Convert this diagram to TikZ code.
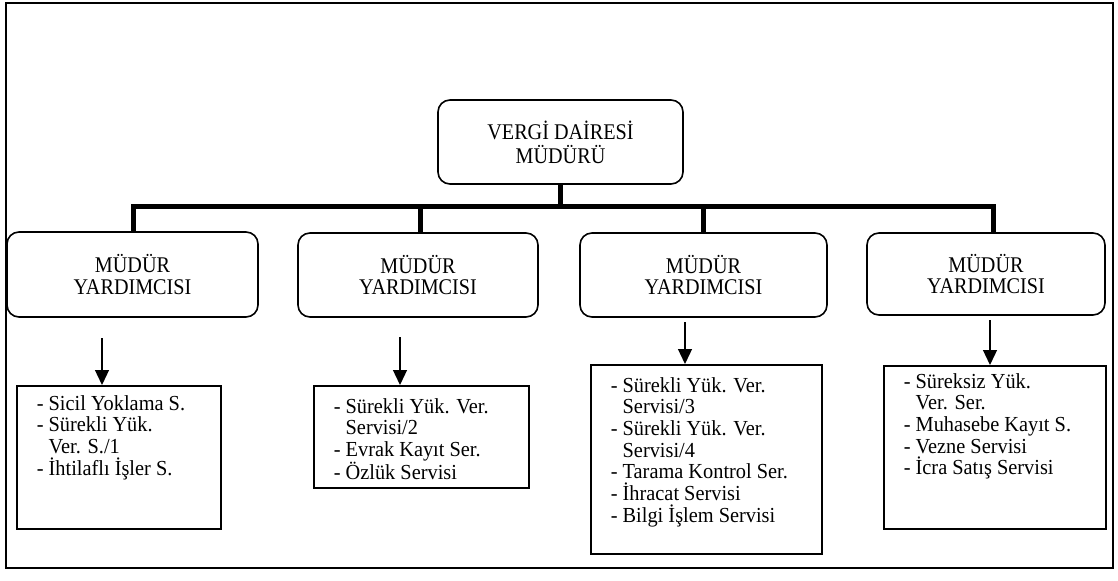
\documentclass[tikz,border=0pt]{standalone}
\usepackage{fontspec}
\setmainfont{Liberation Serif}
\newfontfamily\boxfont[FakeStretch=0.9]{Liberation Serif}
\newfontfamily\listfont[FakeStretch=0.95]{Liberation Serif}
\usetikzlibrary{arrows.meta}
% fixed-size list of services, top aligned, with a left margin
\newcommand{\svclist}[4]{%
  \begin{minipage}[c][#2][t]{#1}%
    \listfont\fontsize{21.5}{21.8}\selectfont\raggedright
    \leftskip=20bp
    \vspace*{#3}\strut #4%
  \end{minipage}}
\newcommand{\hang}{\phantom{- }}
\begin{document}
\begin{tikzpicture}[x=1bp,y=-1bp,
  frame/.style={line width=2bp},
  bar/.style={line width=5bp},
  chief/.style={draw, line width=1.6bp, rounded corners=12bp, align=center,
    inner sep=0pt, font=\boxfont\fontsize{22.5}{24}\selectfont},
  deputy/.style={chief, font=\boxfont\fontsize{22.5}{21.5}\selectfont},
  unitbox/.style={draw, line width=1.6bp, inner sep=0pt, anchor=north west},
  feed/.style={line width=1.3bp, -{Triangle[length=15bp,width=14bp]}}
]
\useasboundingbox (0,0) rectangle (1118,581);
\draw[frame] (6,3) rectangle (1113,568);

% head of the office
\node[chief, minimum width=245bp, minimum height=84bp] (dir) at (560.5,142)
  {VERGİ DAİRESİ\\MÜDÜRÜ};

% deputies
\node[deputy, minimum width=251bp, minimum height=85bp] (my1) at (132.5,274.5) {MÜDÜR\\YARDIMCISI};
\node[deputy, minimum width=240bp, minimum height=84bp] (my2) at (418,275) {MÜDÜR\\YARDIMCISI};
\node[deputy, minimum width=247bp, minimum height=84bp] (my3) at (703.5,275) {MÜDÜR\\YARDIMCISI};
\node[deputy, minimum width=238bp, minimum height=82bp] (my4) at (986,274) {MÜDÜR\\YARDIMCISI};

% junctions on the main bar
\coordinate (j1) at (133,207);
\coordinate (j2) at (420,207);
\coordinate (j3) at (703,207);
\coordinate (j4) at (993,207);

\draw[bar] (dir.south) -- (dir.south |- j1);
\draw[bar] (my1.north -| j1) -- (j1) -- (j4) -- (my4.north -| j4);
\draw[bar] (j2) -- (my2.north -| j2);
\draw[bar] (j3) -- (my3.north -| j3);

% services under each deputy
\node[unitbox] (u1) at (16,385) {\svclist{204bp}{143bp}{9bp}{%
  - Sicil Yoklama S.\\
  - Sürekli Yük.\\
  \hang Ver. S./1\\
  - İhtilaflı İşler S.}};
\node[unitbox] (u2) at (313,385) {\svclist{215bp}{102bp}{12bp}{%
  - Sürekli Yük. Ver.\\
  \hang Servisi/2\\
  - Evrak Kayıt Ser.\\
  - Özlük Servisi}};
\node[unitbox] (u3) at (590,364) {\svclist{231bp}{189bp}{12bp}{%
  - Sürekli Yük. Ver.\\
  \hang Servisi/3\\
  - Sürekli Yük. Ver.\\
  \hang Servisi/4\\
  - Tarama Kontrol Ser.\\
  - İhracat Servisi\\
  - Bilgi İşlem Servisi}};
\node[unitbox] (u4) at (883,365) {\svclist{222bp}{163bp}{7bp}{%
  - Süreksiz Yük.\\
  \hang Ver. Ser.\\
  - Muhasebe Kayıt S.\\
  - Vezne Servisi\\
  - İcra Satış Servisi}};

% arrows from deputies to their services
\coordinate (s1) at (102,338);
\coordinate (s2) at (400,337);
\coordinate (s3) at (685,322);
\coordinate (s4) at (990,320);
\draw[feed] (s1) -- (s1 |- u1.north);
\draw[feed] (s2) -- (s2 |- u2.north);
\draw[feed] (s3) -- (s3 |- u3.north);
\draw[feed] (s4) -- (s4 |- u4.north);
\end{tikzpicture}
\end{document}
